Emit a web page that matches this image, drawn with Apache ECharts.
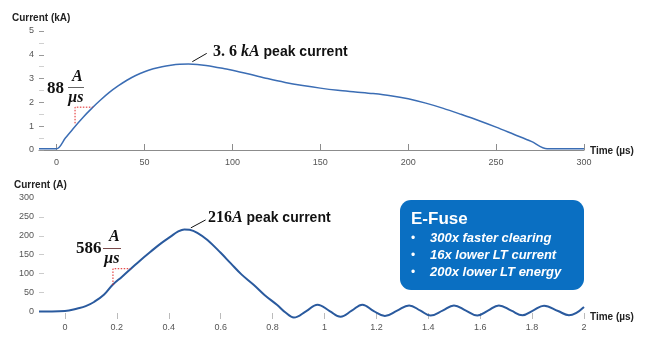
<!DOCTYPE html>
<html>
<head>
<meta charset="utf-8">
<script src="https://cdn.jsdelivr.net/npm/echarts@6/dist/echarts.min.js"></script>
<style>
  html, body { margin: 0; padding: 0; background: #fff; }
  #chart { width: 669px; height: 351px; }
</style>
</head>
<body>
<div id="chart"></div>
<script>
// top trace: current in kA against time in µs
const topTime = [-10, 0, 5, 10, 15, 20, 25, 30, 35, 40, 45, 50, 55, 60, 65, 70, 75, 80, 85, 90, 95, 100, 110, 120, 130, 140, 150, 160, 170, 180, 190, 200, 210, 220, 230, 240, 250, 260, 270, 279, 300]
const topCurrent = [0.05, 0.05, 0.5, 0.95, 1.37, 1.75, 2.1, 2.42, 2.69, 2.93, 3.13, 3.29, 3.41, 3.5, 3.56, 3.6, 3.61, 3.59, 3.55, 3.49, 3.42, 3.35, 3.18, 3.0, 2.84, 2.71, 2.6, 2.51, 2.44, 2.37, 2.28, 2.15, 1.97, 1.75, 1.5, 1.24, 0.96, 0.66, 0.36, 0.05, 0.05]
const topXTicks = [0, 50, 100, 150, 200, 250, 300]

// bottom trace: E-Fuse current in A against time in µs
const botTime = [-0.1, -0.05, 0, 0.048, 0.08, 0.112, 0.15, 0.183, 0.22, 0.253, 0.29, 0.33, 0.37, 0.407, 0.435, 0.46, 0.48, 0.51, 0.549, 0.6, 0.639, 0.68, 0.728, 0.77, 0.818, 0.85, 0.882, 0.93, 0.973, 1.02, 1.062, 1.105, 1.146, 1.19, 1.233, 1.28, 1.326, 1.37, 1.409, 1.455, 1.499, 1.545, 1.589, 1.63, 1.672, 1.72, 1.763, 1.805, 1.846, 1.9, 1.942, 2.0]
const botCurrent = [0, 0, 1, 8, 14, 25, 44, 70, 92, 112, 135, 158, 180, 198, 211, 217, 216, 208, 189, 155, 127, 98, 70, 43, 17, -3, -16, 1, 18, 1, -14, 2, 18, 1, -12, 2, 16, 2, -11, 2, 16, 2, -11, 2, 16, 2, -10, 3, 15, 1, -10, 12]
const botXTicks = [0, 0.2, 0.4, 0.6, 0.8, 1, 1.2, 1.4, 1.6, 1.8, 2]
const botYTicks = [0, 50, 100, 150, 200, 250, 300]

// slope triangles and peak pointers (data coordinates)
const topSlopeX = [10.5, 10.5, 20.5]
const topSlopeY = [1.12, 1.8, 1.8]
const botSlopeX = [0.185, 0.185, 0.253]
const botSlopeY = [70, 113, 113]
const topPointerX = [77.2, 85.4]
const topPointerY = [3.71, 4.06]
const botPointerX = [0.485, 0.542]
const botPointerY = [221, 242]

const boxBullets = ['300x faster clearing', '16x lower LT current', '200x lower LT energy']

const zip = (xs, ys) => xs.map((x, i) => [x, ys[i]])

const chart = echarts.init(document.getElementById('chart'))

const labelStyle = { color: '#555', fontSize: 9, fontFamily: 'Liberation Sans' }
const serif = 'Liberation Serif'
const sans = 'Liberation Sans'

const option = {
  animation: false,
  grid: [
    { left: 39, right: 85, top: 31, height: 119 },
    { left: 39, right: 85, top: 198, height: 121 }
  ],
  xAxis: [
    {
      gridIndex: 0,
      type: 'value',
      min: -10,
      max: 300,
      axisLine: { show: true, onZero: false, lineStyle: { color: '#8c8c8c', width: 1.2 } },
      axisTick: { show: true, inside: true, length: 6, customValues: topXTicks, lineStyle: { color: '#8c8c8c' } },
      axisLabel: { ...labelStyle, margin: 8, customValues: topXTicks },
      splitLine: { show: false }
    },
    {
      gridIndex: 1,
      type: 'value',
      min: -0.1,
      max: 2,
      axisLine: { show: false, onZero: false },
      axisTick: { show: true, inside: true, length: 6, customValues: botXTicks, lineStyle: { color: '#bbb' } },
      axisLabel: { ...labelStyle, margin: 4, customValues: botXTicks },
      splitLine: { show: false }
    }
  ],
  yAxis: [
    {
      gridIndex: 0,
      type: 'value',
      min: 0,
      max: 5,
      interval: 1,
      axisLine: { show: false, onZero: false },
      axisTick: { show: true, inside: true, length: 5, lineStyle: { color: '#999' } },
      minorTick: { show: true, splitNumber: 2, length: 5, lineStyle: { color: '#d0d0d0' } },
      axisLabel: { ...labelStyle, margin: 5 },
      splitLine: { show: false }
    },
    {
      gridIndex: 1,
      type: 'value',
      min: -20,
      max: 300,
      axisLine: { show: false, onZero: false },
      axisTick: { show: true, inside: true, length: 5, customValues: [50, 100, 150, 200, 250], lineStyle: { color: '#ccc' } },
      axisLabel: { ...labelStyle, margin: 5, customValues: botYTicks },
      splitLine: { show: false }
    }
  ],
  series: [
    {
      type: 'line',
      xAxisIndex: 0,
      yAxisIndex: 0,
      data: zip(topTime, topCurrent),
      smooth: 0.3,
      showSymbol: false,
      lineStyle: { color: '#3b6db4', width: 1.5 }
    },
    {
      type: 'line',
      xAxisIndex: 1,
      yAxisIndex: 1,
      data: zip(botTime, botCurrent),
      smooth: 0.4,
      showSymbol: false,
      lineStyle: { color: '#2a5a9e', width: 2 }
    },
    {
      type: 'line',
      xAxisIndex: 0,
      yAxisIndex: 0,
      data: zip(topSlopeX, topSlopeY),
      showSymbol: false,
      lineStyle: { color: '#e02020', width: 1, type: [1.5, 1.5] }
    },
    {
      type: 'line',
      xAxisIndex: 1,
      yAxisIndex: 1,
      data: zip(botSlopeX, botSlopeY),
      showSymbol: false,
      lineStyle: { color: '#e02020', width: 1, type: [1.5, 1.5] }
    },
    {
      type: 'line',
      xAxisIndex: 0,
      yAxisIndex: 0,
      data: zip(topPointerX, topPointerY),
      showSymbol: false,
      lineStyle: { color: '#111', width: 1 }
    },
    {
      type: 'line',
      xAxisIndex: 1,
      yAxisIndex: 1,
      data: zip(botPointerX, botPointerY),
      showSymbol: false,
      lineStyle: { color: '#111', width: 1 }
    }
  ],
  graphic: [
    // axis titles
    { type: 'text', left: 12, top: 13, style: { text: 'Current (kA)', fontSize: 10, fontWeight: 'bold', fontFamily: sans, fill: '#222' } },
    { type: 'text', left: 14, top: 180, style: { text: 'Current (A)', fontSize: 10, fontWeight: 'bold', fontFamily: sans, fill: '#222' } },
    { type: 'text', left: 590, top: 146, style: { text: 'Time (µs)', fontSize: 10, fontWeight: 'bold', fontFamily: sans, fill: '#222' } },
    { type: 'text', left: 590, top: 312, style: { text: 'Time (µs)', fontSize: 10, fontWeight: 'bold', fontFamily: sans, fill: '#222' } },

    // peak labels
    {
      type: 'text', left: 213, top: 44,
      style: {
        text: '{n|3. 6 }{k|kA}{s| peak current}',
        rich: {
          n: { fontFamily: serif, fontWeight: 'bold', fontSize: 16, fill: '#111' },
          k: { fontFamily: serif, fontWeight: 'bold', fontStyle: 'italic', fontSize: 16, fill: '#111' },
          s: { fontFamily: sans, fontWeight: 'bold', fontSize: 14, fill: '#111' }
        }
      }
    },
    {
      type: 'text', left: 208, top: 210,
      style: {
        text: '{n|216}{k|A}{s| peak current}',
        rich: {
          n: { fontFamily: serif, fontWeight: 'bold', fontSize: 16, fill: '#111' },
          k: { fontFamily: serif, fontWeight: 'bold', fontStyle: 'italic', fontSize: 16, fill: '#111' },
          s: { fontFamily: sans, fontWeight: 'bold', fontSize: 14, fill: '#111' }
        }
      }
    },

    // slope fractions
    { type: 'text', left: 47, top: 80, style: { text: '88', fontFamily: serif, fontWeight: 'bold', fontSize: 17, fill: '#111' } },
    { type: 'text', left: 72, top: 69, style: { text: 'A', fontFamily: serif, fontWeight: 'bold', fontStyle: 'italic', fontSize: 16, fill: '#111' } },
    { type: 'line', shape: { x1: 68, y1: 87.5, x2: 84, y2: 87.5 }, style: { stroke: '#666', lineWidth: 1 } },
    { type: 'text', left: 68, top: 90, style: { text: 'µs', fontFamily: serif, fontWeight: 'bold', fontStyle: 'italic', fontSize: 16, fill: '#111' } },

    { type: 'text', left: 76, top: 240, style: { text: '586', fontFamily: serif, fontWeight: 'bold', fontSize: 17, fill: '#111' } },
    { type: 'text', left: 109, top: 229, style: { text: 'A', fontFamily: serif, fontWeight: 'bold', fontStyle: 'italic', fontSize: 16, fill: '#111' } },
    { type: 'line', shape: { x1: 103, y1: 248.5, x2: 121, y2: 248.5 }, style: { stroke: '#7a4a4a', lineWidth: 1 } },
    { type: 'text', left: 104, top: 251, style: { text: 'µs', fontFamily: serif, fontWeight: 'bold', fontStyle: 'italic', fontSize: 16, fill: '#111' } },

    // E-Fuse box
    { type: 'rect', shape: { x: 400, y: 200, width: 184, height: 90, r: 11 }, style: { fill: '#0a6fc2' } },
    { type: 'text', left: 411, top: 211, style: { text: 'E-Fuse', fontFamily: sans, fontSize: 17, fontWeight: 'bold', fill: '#fff' } },
    ...boxBullets.flatMap((t, i) => [
      { type: 'text', left: 411, top: 233 + i * 17, style: { text: '•', fontFamily: sans, fontSize: 12, fill: '#fff' } },
      { type: 'text', left: 430, top: 232 + i * 17, style: { text: t, fontFamily: sans, fontSize: 13, fontStyle: 'italic', fontWeight: 'bold', fill: '#fff' } }
    ])
  ]
}

chart.setOption(option)
</script>
</body>
</html>
